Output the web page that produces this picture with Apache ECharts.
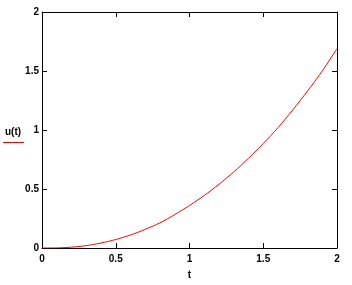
<!DOCTYPE html>
<html><head><meta charset="utf-8">
<script src="https://cdn.jsdelivr.net/npm/echarts@6/dist/echarts.min.js"></script>
<style>html,body{margin:0;padding:0;background:#fff}#c{width:352px;height:285px}</style>
</head><body><div id="c"></div>
<script>
const tValues = [0,0.1,0.2,0.3,0.4,0.5,0.6,0.7,0.8,0.9,1.0,1.1,1.2,1.3,1.4,1.5,1.6,1.7,1.8,1.9,2.0];
const uValues = [0,0.001,0.007,0.02,0.042,0.072,0.11,0.158,0.213,0.283,0.36,0.445,0.54,0.645,0.76,0.885,1.02,1.17,1.33,1.50,1.69];
const xTicks = ['0','0.5','1','1.5','2'];
const yTicks = ['0','0.5','1','1.5','2'];
const seriesName = 'u(t)';
const xName = 't';

const font = {fontFamily:'Liberation Sans', fontWeight:'bold', fontSize:10, color:'#000'};
const axLine = {show:true, onZero:false, lineStyle:{color:'#000', width:1}};
const tick = {show:true, inside:true, length:5, lineStyle:{color:'#000', width:1}};
const chart = echarts.init(document.getElementById('c'));
chart.setOption({
  animation:false,
  grid:{left:42, top:12, right:15, bottom:33},
  xAxis:[
    {type:'value', min:0, max:2, interval:0.5, position:'bottom', axisLine:axLine, axisTick:tick, splitLine:{show:false},
     axisLabel:Object.assign({margin:6, formatter:(v)=>xTicks[Math.round(v*2)]}, font),
     name:xName, nameLocation:'middle', nameGap:22, nameTextStyle:font},
    {type:'value', min:0, max:2, interval:0.5, position:'top', axisLine:axLine, axisTick:tick, splitLine:{show:false}, axisLabel:{show:false}}
  ],
  yAxis:[
    {type:'value', min:0, max:2, interval:0.5, position:'left', axisLine:axLine, axisTick:tick, splitLine:{show:false},
     axisLabel:Object.assign({margin:3, formatter:(v)=>yTicks[Math.round(v*2)]}, font)},
    {type:'value', min:0, max:2, interval:0.5, position:'right', axisLine:axLine, axisTick:tick, splitLine:{show:false}, axisLabel:{show:false}}
  ],
  series:[{name:seriesName, type:'line', smooth:0.3, showSymbol:false, lineStyle:{color:'#ff0000', width:1},
    data:tValues.map((t,i)=>[t,uValues[i]])}],
  graphic:[
    {type:'text', left:5, top:127, style:{text:seriesName, font:'bold 10px "Liberation Sans"', fill:'#000'}},
    {type:'line', shape:{x1:3, y1:142.5, x2:24, y2:142.5}, style:{stroke:'#ff0000', lineWidth:1}}
  ]
});
</script></body></html>
